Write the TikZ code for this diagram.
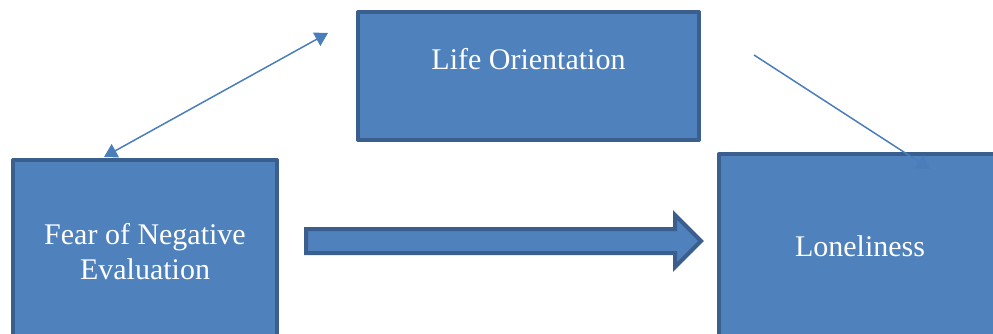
\documentclass[tikz,border=0pt]{standalone}
\usepackage{fontspec}
\setmainfont{Liberation Serif}
\usetikzlibrary{arrows.meta}
\definecolor{boxfill}{HTML}{4F81BD}
\definecolor{boxline}{HTML}{3A5F8E}
\definecolor{linkcol}{HTML}{4A7EBB}
\begin{document}
\begin{tikzpicture}[x=1pt,y=-1pt,
  box/.style={draw=boxline,fill=boxfill,line width=4pt,line join=round},
  lbl/.style={text=white,font=\fontsize{30}{35}\selectfont,align=center,inner sep=0pt,anchor=base},
  link/.style={draw=linkcol,line width=1.5pt,{Triangle[length=13pt,width=15pt]}-{Triangle[length=13pt,width=15pt]}},
  linkone/.style={draw=linkcol,line width=1.5pt,-{Triangle[length=13pt,width=15pt]}},
  bigarrow/.style={draw=boxline,fill=boxfill,line width=4pt,line join=miter}]
\useasboundingbox (0,0) rectangle (993,334);
% boxes
\draw[box] (358,12) rectangle (699,140);
\draw[box] (13,160) rectangle (277,360);
\draw[box] (719,154) rectangle (1010,360);
\coordinate (life) at (528.5,76);
\coordinate (fear) at (145,247);
\coordinate (lone) at (860,247);
% texts
\node[lbl] (lifet) at (528.5,70) {Life Orientation};
\node[lbl] (feart1) at (145,244) {Fear of Negative};
\node[lbl] (feart2) at (145,279) {Evaluation};
\node[lbl] (lonet) at (860,256) {Loneliness};
% block arrow
\draw[bigarrow] (306,229) -- (675,229) -- (675,215) -- (701,241) -- (675,267) -- (675,253) -- (306,253) -- cycle;
% thin connectors
\coordinate (a1) at (104,157);
\coordinate (a2) at (328,33);
\coordinate (b1) at (754,55);
\coordinate (b2) at (930,169);
\draw[link] (a1) -- (a2);
\draw[linkone] (b1) -- (b2);
\end{tikzpicture}
\end{document}
